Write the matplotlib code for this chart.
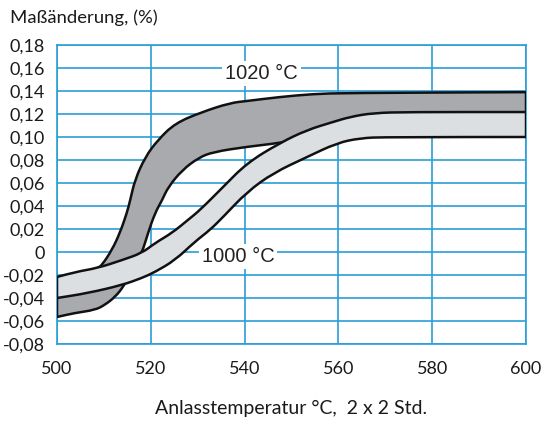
import matplotlib

matplotlib.use("Agg")
import matplotlib.pyplot as plt
import numpy as np
from matplotlib.path import Path
from matplotlib.patches import PathPatch

# 1020 °C band (dark)
T1020_UPPER_X = [500, 504, 508.7, 509.6, 511.7, 513.4, 514.9, 515.6, 516.6, 518.8,
                 521.5, 525.2, 530.9, 536.9, 540.5, 547.5, 554.6, 561.8, 600]
T1020_UPPER_Y = [-0.030, -0.024, -0.014, -0.0113, 0.0017, 0.0165, 0.034, 0.045, 0.0626,
                 0.0826, 0.0974, 0.112, 0.1217, 0.1296, 0.1313, 0.1348, 0.1374, 0.1383, 0.139]
T1020_LOWER_X = [500, 503.8, 508.1, 510.2, 512.4, 514.1, 516.2, 518.1, 519.4, 520.9,
                 522.4, 523.7, 526.7, 530.2, 533.3, 540.5, 547.5, 554.6, 561.8, 600]
T1020_LOWER_Y = [-0.0565, -0.053, -0.0504, -0.046, -0.039, -0.0304, -0.0157, -0.0009,
                 0.0165, 0.034, 0.045, 0.0565, 0.0713, 0.082, 0.087, 0.0915, 0.0948,
                 0.100, 0.106, 0.110]

# 1000 °C band (light)
T1000_UPPER_X = [500, 503.8, 508.7, 513.9, 518.1, 520.9, 524.5, 527.9, 530.5, 535.4,
                 540.5, 547.5, 553.3, 558.8, 562.5, 567.4, 575, 600]
T1000_UPPER_Y = [-0.0217, -0.0174, -0.0139, -0.007, -0.0009, 0.0078, 0.0165, 0.0278,
                 0.0365, 0.0565, 0.0774, 0.0948, 0.1061, 0.113, 0.1175, 0.1209, 0.1217, 0.1217]
T1000_LOWER_X = [500, 506.6, 513.9, 518.1, 520.9, 525.2, 529.4, 532.6, 535.4, 540.5,
                 546.1, 553.3, 559.7, 564.6, 570, 600]
T1000_LOWER_Y = [-0.040, -0.0357, -0.0287, -0.0226, -0.0174, -0.007, 0.009, 0.0191,
                 0.0304, 0.0522, 0.0687, 0.0826, 0.0948, 0.099, 0.100, 0.100]

Y_TICKS = np.round(np.arange(-0.08, 0.181, 0.02), 2)
X_TICKS = [500, 520, 540, 560, 580, 600]

GRID = "#2a9ed8"
DARK = "#a8aaad"
LIGHT = "#dcdfe2"


def _smooth(xs, ys, first):
    """Quadratic-bezier smoothing of a polyline: read points act as control points."""
    pts = list(zip(xs, ys))
    verts = [pts[0]]
    codes = [Path.MOVETO if first else Path.LINETO]
    for i in range(1, len(pts) - 1):
        mid = ((pts[i][0] + pts[i + 1][0]) / 2, (pts[i][1] + pts[i + 1][1]) / 2)
        verts += [pts[i], mid]
        codes += [Path.CURVE3, Path.CURVE3]
    verts.append(pts[-1])
    codes.append(Path.LINETO)
    return verts, codes


def band(ax, ux, uy, lx, ly, color):
    v1, c1 = _smooth(ux, uy, True)
    v2, c2 = _smooth(lx[::-1], ly[::-1], False)
    verts = v1 + v2 + [v1[0]]
    codes = c1 + c2 + [Path.CLOSEPOLY]
    ax.add_patch(PathPatch(Path(verts, codes), facecolor=color, edgecolor="#111111",
                           lw=1.8, joinstyle="round", zorder=3))


def fmt(v):
    return "0" if abs(v) < 1e-9 else f"{v:.2f}".replace(".", ",")


fig = plt.figure(figsize=(5.41, 4.22), dpi=100)
ax = fig.add_axes([0.1054, 0.1848, 0.8669, 0.7086])

band(ax, T1020_UPPER_X, T1020_UPPER_Y, T1020_LOWER_X, T1020_LOWER_Y, DARK)
band(ax, T1000_UPPER_X, T1000_UPPER_Y, T1000_LOWER_X, T1000_LOWER_Y, LIGHT)

ax.set_xlim(500, 600)
ax.set_ylim(-0.08, 0.18)
ax.set_xticks(X_TICKS)
ax.set_yticks(Y_TICKS)
ax.set_xticklabels([str(x) for x in X_TICKS])
ax.set_yticklabels([fmt(v) for v in Y_TICKS])
ax.tick_params(length=0, labelsize=13, colors="#1a1a1a")
ax.tick_params(axis="x", pad=12)
ax.tick_params(axis="y", pad=9)
for lab in ax.get_xticklabels() + ax.get_yticklabels():
    lab.set_family("Lato")

for v in Y_TICKS:
    ax.axhline(v, color=GRID, lw=1.2, zorder=1)
for x in X_TICKS:
    ax.axvline(x, color=GRID, lw=1.2, zorder=1)
for s in ax.spines.values():
    s.set_color(GRID)
    s.set_linewidth(1.2)

lbl_box = dict(facecolor="white", edgecolor="none", boxstyle="square,pad=0.15")
ax.text(543.6, 0.1555, "1020 °C", fontsize=14.5, family="Liberation Sans", color="#222222",
        ha="center", va="center", bbox=lbl_box, zorder=4)
ax.text(538.6, -0.0043, "1000 °C", fontsize=14.5, family="Liberation Sans", color="#222222",
        ha="center", va="center", bbox=lbl_box, zorder=2)

fig.text(10 / 541, 1 - 18 / 422, "Maßänderung, (%)", fontsize=13.3, family="Lato",
         ha="left", va="center", color="#1a1a1a")
fig.text(291 / 541, 1 - 408 / 422, "Anlasstemperatur °C,  2 x 2 Std.", fontsize=14,
         family="Lato", ha="center", va="center", color="#1a1a1a")

fig.savefig("out.png", dpi=100)
